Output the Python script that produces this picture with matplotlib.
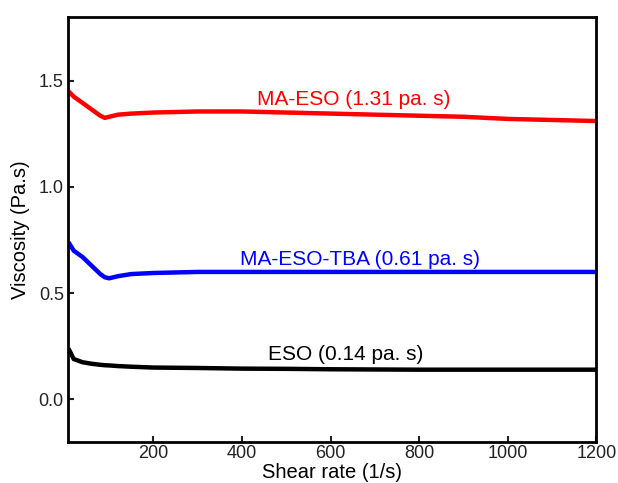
import matplotlib
matplotlib.use("Agg")
import matplotlib.pyplot as plt
import numpy as np

plt.rcParams['font.family'] = ['Liberation Sans', 'DejaVu Sans']

shear = [8, 20, 40, 60, 80, 90, 100, 120, 150, 200, 300, 400, 500,
         600, 700, 800, 900, 1000, 1100, 1200]
ma_eso = [1.45, 1.425, 1.395, 1.365, 1.335, 1.325, 1.33, 1.34, 1.345, 1.35,
          1.355, 1.355, 1.35, 1.345, 1.34, 1.335, 1.33, 1.32, 1.315, 1.31]
ma_eso_tba = [0.74, 0.70, 0.67, 0.63, 0.59, 0.575, 0.57, 0.58, 0.59, 0.595,
              0.60, 0.60, 0.60, 0.60, 0.60, 0.60, 0.60, 0.60, 0.60, 0.60]
eso = [0.24, 0.19, 0.175, 0.168, 0.163, 0.161, 0.16, 0.157, 0.154, 0.15,
       0.148, 0.145, 0.144, 0.142, 0.141, 0.14, 0.14, 0.14, 0.14, 0.14]

series = [
    (ma_eso, 'red', 'MA-ESO (1.31 pa. s)', 653, 1.386),
    (ma_eso_tba, 'blue', 'MA-ESO-TBA (0.61 pa. s)', 667, 0.633),
    (eso, 'black', 'ESO (0.14 pa. s)', 635, 0.186),
]

fig = plt.figure(figsize=(6.18, 4.83), dpi=100)
ax = fig.add_axes([0.110, 0.085, 0.855, 0.880])

for vals, col, lab, tx, ty in series:
    ax.plot(shear, vals, color=col, lw=3.2, solid_capstyle='butt')
    ax.text(tx, ty, lab, color=col, fontsize=15, ha='center', va='baseline')

ax.set_xlim(7, 1200)
ax.set_ylim(-0.2, 1.8)
ax.set_xticks([200, 400, 600, 800, 1000, 1200])
ax.set_yticks([0.0, 0.5, 1.0, 1.5])
ax.set_yticklabels(['0.0', '0.5', '1.0', '1.5'])
ax.tick_params(direction='in', length=4, width=1.5, labelsize=13,
               colors='#222222', pad=3)
ax.tick_params(axis='x', pad=2)
for s in ax.spines.values():
    s.set_linewidth(2)
ax.set_xlabel('Shear rate (1/s)', fontsize=14.5, labelpad=1)
ax.set_ylabel('Viscosity (Pa.s)', fontsize=14.5, labelpad=6)

plt.savefig('out.png', dpi=100)
